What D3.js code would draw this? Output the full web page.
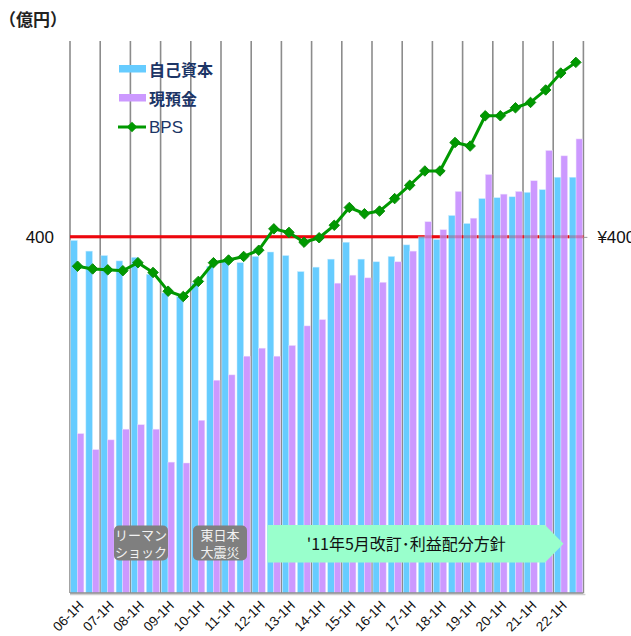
<!DOCTYPE html>
<html>
<head>
<meta charset="utf-8">
<script src="https://cdn.jsdelivr.net/npm/d3@7"></script>
<style>
  body { margin: 0; background: #fff; }
  svg { font-family: "Liberation Sans Narrow", "Liberation Sans", Arial, sans-serif; }
  .jp { font-family: "Noto Sans CJK JP", sans-serif; }
</style>
</head>
<body>
<svg id="chart" width="631" height="636"></svg>
<script>
// half-year periods 06-1H .. 22-2H
var years = ["06","07","08","09","10","11","12","13","14","15","16","17","18","19","20","21","22"];
var periods = [];
years.forEach(function(y) { periods.push(y + "-1H"); periods.push(y + "-2H"); });

// 自己資本 (億円)
var equity = [396,384,379,373,377,358,337,333,348,367,372,371,378,383,379,361,366,375,394,375,
              372,378,391,400,397,424,415,443,444,445,450,453,467,467];
// 現預金 (億円)
var cash = [179,161,172,184,189,184,147,146,194,239,245,266,275,266,278,300,307,348,357,354,
            349,372,384,417,408,451,421,470,448,451,463,497,491,510];
// BPS (円)
var bps = [367,364,363,362,371,360,339,333,350,371,374,378,385,409,405,394,399,413,433,426,
           429,443,458,474,474,506,502,536,536,545,551,565,584,596];

var refValue = 400;

var svg = d3.select("#chart");
var plotLeft = 70, plotRight = 583.4, plotTop = 41, plotBottom = 593;

var x0 = d3.scaleBand()
  .domain(periods)
  .range([plotLeft, plotRight])
  .paddingInner(0.13)
  .paddingOuter(0.05);

var x1 = d3.scaleBand()
  .domain(["equity", "cash"])
  .range([0, x0.bandwidth()]);

var xMid = d3.scalePoint()
  .domain(periods)
  .range([plotLeft, plotRight])
  .padding(0.5);

var y = d3.scaleLinear()
  .domain([0, 620])
  .range([plotBottom, plotTop]);

// year grid lines
var slot = (plotRight - plotLeft) / periods.length;
svg.append("g")
  .selectAll("line")
  .data(d3.range(years.length + 1))
  .join("line")
    .attr("x1", function(d) { return plotLeft + d * slot * 2; })
    .attr("x2", function(d) { return plotLeft + d * slot * 2; })
    .attr("y1", plotTop)
    .attr("y2", plotBottom)
    .attr("stroke", "#8c8c8c")
    .attr("stroke-width", 1.6);

// red 400 line (under bars)
svg.append("line")
  .attr("x1", plotLeft).attr("x2", plotRight)
  .attr("y1", y(refValue)).attr("y2", y(refValue))
  .attr("stroke", "#ff0000")
  .attr("stroke-width", 3);

// bars
var groups = svg.append("g")
  .selectAll("g")
  .data(periods)
  .join("g")
    .attr("transform", function(d) { return "translate(" + x0(d) + ",0)"; });

groups.append("rect")
  .attr("x", x1("equity"))
  .attr("y", function(d, i) { return y(equity[i]); })
  .attr("width", x1.bandwidth())
  .attr("height", function(d, i) { return plotBottom - y(equity[i]); })
  .attr("fill", "#66ccff")
  .attr("stroke", "#c8ecff")
  .attr("stroke-width", 0.5);

groups.append("rect")
  .attr("x", x1("cash"))
  .attr("y", function(d, i) { return y(cash[i]); })
  .attr("width", x1.bandwidth())
  .attr("height", function(d, i) { return plotBottom - y(cash[i]); })
  .attr("fill", "#cc99ff")
  .attr("stroke", "#ecdcff")
  .attr("stroke-width", 0.5);

// faint red line over bars
svg.append("line")
  .attr("x1", plotLeft).attr("x2", plotRight)
  .attr("y1", y(refValue)).attr("y2", y(refValue))
  .attr("stroke", "#c0182a")
  .attr("stroke-opacity", 0.3)
  .attr("stroke-width", 3);

// axes frame
svg.append("line")
  .attr("x1", plotLeft).attr("x2", plotRight + 2)
  .attr("y1", plotBottom + 1.5).attr("y2", plotBottom + 1.5)
  .attr("stroke", "#cfcfcf").attr("stroke-width", 1.5);
svg.append("line")
  .attr("x1", plotLeft).attr("x2", plotRight)
  .attr("y1", plotBottom).attr("y2", plotBottom)
  .attr("stroke", "#8c8c8c").attr("stroke-width", 1.6);

var yLeft = svg.append("g")
  .attr("transform", "translate(" + plotLeft + ",0)")
  .call(d3.axisLeft(y).tickValues([refValue]).tickSize(0).tickPadding(16));
yLeft.select(".domain").remove();
yLeft.selectAll("text").attr("font-size", 17).attr("fill", "#111");

var yRight = svg.append("g")
  .attr("transform", "translate(" + plotRight + ",0)")
  .call(d3.axisRight(y).tickValues([refValue]).tickSize(4).tickPadding(10)
    .tickFormat(function(d) { return "¥" + d; }));
yRight.select(".domain").remove();
yRight.selectAll("line").attr("stroke", "#999");
yRight.selectAll("text").attr("font-size", 17).attr("fill", "#111");

// BPS line
var line = d3.line()
  .x(function(d, i) { return xMid(periods[i]); })
  .y(function(d) { return y(d); });

svg.append("path")
  .datum(bps)
  .attr("fill", "none")
  .attr("stroke", "#009900")
  .attr("stroke-width", 3)
  .attr("stroke-linejoin", "round")
  .attr("d", line);

var diamond = d3.symbol().type(d3.symbolDiamond2).size(70);
svg.append("g")
  .selectAll("path")
  .data(bps)
  .join("path")
    .attr("transform", function(d, i) { return "translate(" + xMid(periods[i]) + "," + y(d) + ")"; })
    .attr("d", diamond)
    .attr("fill", "#009900")
    .attr("stroke", "#0a8a0a")
    .attr("stroke-width", 1);

// x labels, one per year
var xAxis = svg.append("g")
  .attr("transform", "translate(0," + (plotBottom + 4) + ")")
  .call(d3.axisBottom(xMid)
    .tickValues(periods.filter(function(d, i) { return i % 2 == 0; }))
    .tickSize(0).tickPadding(0));
xAxis.select(".domain").remove();
xAxis.selectAll("text")
  .attr("font-size", 13.5)
  .attr("fill", "#111")
  .attr("text-anchor", "end")
  .attr("y", 0)
  .attr("dy", "0.35em")
  .attr("transform", "translate(3,6) rotate(-45)");

// annotations
var notes = [
  { lines: ["リーマン", "ショック"], bx: 114 },
  { lines: ["東日本", "大震災"], bx: 193 }
];
notes.forEach(function(n) {
  svg.append("rect")
    .attr("x", n.bx).attr("y", 525.5)
    .attr("width", 54).attr("height", 35)
    .attr("rx", 5)
    .attr("fill", "#7f7f7f");
  n.lines.forEach(function(t, k) {
    svg.append("text")
      .attr("class", "jp")
      .attr("x", n.bx + 27).attr("y", 540 + k * 16.5)
      .attr("text-anchor", "middle")
      .attr("font-size", 13)
      .attr("fill", "#f2f2f2")
      .text(t);
  });
});

var ax = 267.5, axEnd = 545, axTip = 563.5, ayTop = 525, ayBot = 562.5;
svg.append("path")
  .attr("d", "M" + ax + "," + ayTop + "L" + axEnd + "," + ayTop + "L" + axTip + "," + ((ayTop + ayBot) / 2) +
             "L" + axEnd + "," + ayBot + "L" + ax + "," + ayBot + "Z")
  .attr("fill", "#99ffcc");
svg.append("text")
  .attr("class", "jp")
  .attr("x", (ax + axEnd) / 2).attr("y", 549.5)
  .attr("text-anchor", "middle")
  .attr("font-size", 16)
  .attr("fill", "#111")
  .text("'11年5月改訂･利益配分方針");

// unit label
svg.append("text")
  .attr("class", "jp")
  .attr("x", -1).attr("y", 26)
  .attr("font-size", 17)
  .attr("font-weight", "bold")
  .attr("fill", "#222")
  .text("（億円）");

// legend
var legend = svg.append("g").attr("transform", "translate(119,0)");
legend.append("rect").attr("x", 0).attr("y", 65).attr("width", 27).attr("height", 7.5).attr("fill", "#66ccff");
legend.append("rect").attr("x", 0).attr("y", 94).attr("width", 27).attr("height", 7.5).attr("fill", "#cc99ff");
legend.append("line").attr("x1", -1).attr("x2", 27).attr("y1", 127).attr("y2", 127)
  .attr("stroke", "#009900").attr("stroke-width", 3);
legend.append("path").attr("transform", "translate(13,127)").attr("d", diamond).attr("fill", "#009900");
legend.append("text").attr("class", "jp").attr("x", 30).attr("y", 76).attr("font-size", 16)
  .attr("font-weight", "bold").attr("fill", "#1c3566").text("自己資本");
legend.append("text").attr("class", "jp").attr("x", 30).attr("y", 105).attr("font-size", 16)
  .attr("font-weight", "bold").attr("fill", "#1c3566").text("現預金");
legend.append("text").attr("x", 30).attr("y", 133).attr("font-size", 17)
  .attr("fill", "#1c3566").text("BPS");
</script>
</body>
</html>
